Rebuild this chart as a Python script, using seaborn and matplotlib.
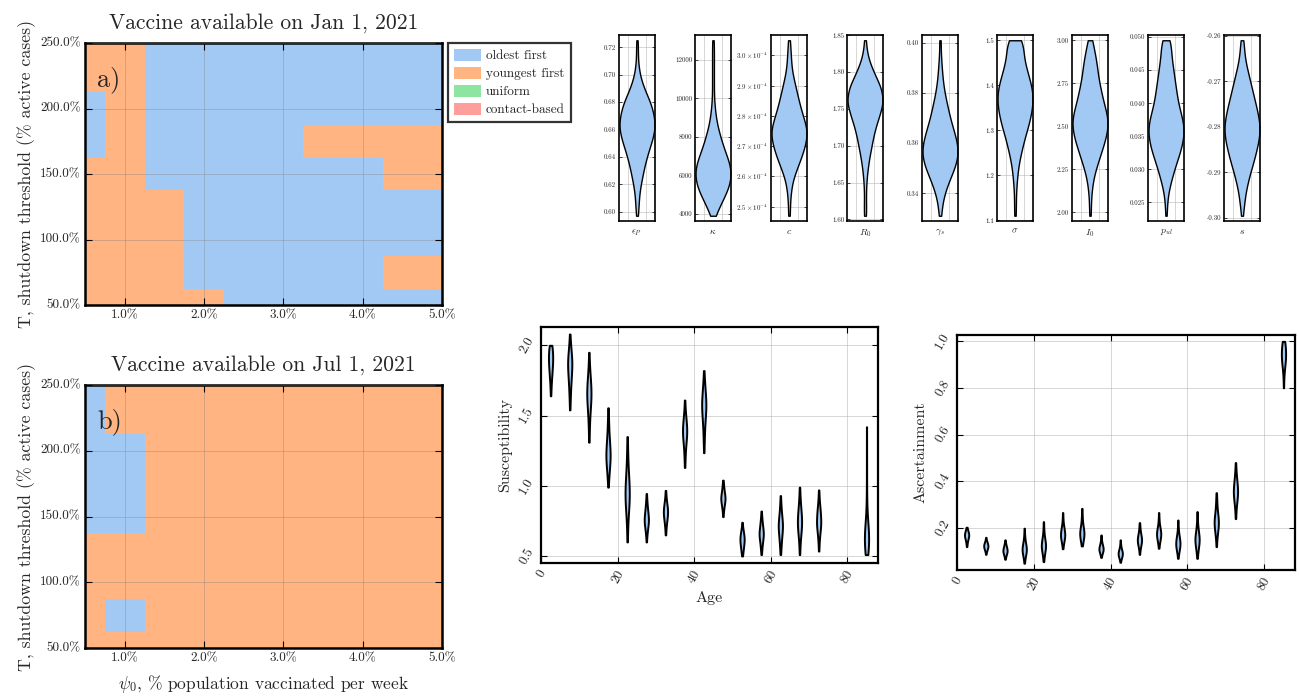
import numpy as np
import pandas as pd
import matplotlib
matplotlib.use("Agg")
import matplotlib.pyplot as plt
from matplotlib.colors import ListedColormap
from matplotlib.patches import Patch
from matplotlib.ticker import FuncFormatter
import seaborn as sns

# ---------------------------------------------------------------------------
# Optimal strategy grids: rows = shutdown threshold T (%), columns = psi0 (%/week)
# ---------------------------------------------------------------------------
psi0_levels = [0.5, 1.0, 1.5, 2.0, 2.5, 3.0, 3.5, 4.0, 4.5, 5.0]
threshold_levels = [50, 75, 100, 125, 150, 175, 200, 225, 250]
psi0_ticks = [1.0, 2.0, 3.0, 4.0, 5.0]
threshold_ticks = [50, 100, 150, 200, 250]
strategies = ["oldest first", "youngest first", "uniform", "contact-based"]
strategy_colors = ["#a1c9f4", "#ffb482", "#8de5a1", "#ff9f9b"]

# 0 = oldest first, 1 = youngest first; first row is T = 50%
best_jan = [
    [1, 1, 1, 1, 0, 0, 0, 0, 0, 0],
    [1, 1, 1, 0, 0, 0, 0, 0, 1, 1],
    [1, 1, 1, 0, 0, 0, 0, 0, 0, 0],
    [1, 1, 1, 0, 0, 0, 0, 0, 0, 0],
    [1, 1, 0, 0, 0, 0, 0, 0, 1, 1],
    [0, 1, 0, 0, 0, 0, 1, 1, 1, 1],
    [0, 1, 0, 0, 0, 0, 0, 0, 0, 0],
    [1, 1, 0, 0, 0, 0, 0, 0, 0, 0],
    [1, 1, 0, 0, 0, 0, 0, 0, 0, 0],
]
best_jul = [
    [1, 1, 1, 1, 1, 1, 1, 1, 1, 1],
    [1, 0, 1, 1, 1, 1, 1, 1, 1, 1],
    [1, 1, 1, 1, 1, 1, 1, 1, 1, 1],
    [1, 1, 1, 1, 1, 1, 1, 1, 1, 1],
    [0, 0, 1, 1, 1, 1, 1, 1, 1, 1],
    [0, 0, 1, 1, 1, 1, 1, 1, 1, 1],
    [0, 0, 1, 1, 1, 1, 1, 1, 1, 1],
    [0, 1, 1, 1, 1, 1, 1, 1, 1, 1],
    [0, 1, 1, 1, 1, 1, 1, 1, 1, 1],
]

# ---------------------------------------------------------------------------
# Posterior draws of the scalar parameters, binned: (values, counts)
# ---------------------------------------------------------------------------
eps_p_values = [0.597, 0.600, 0.605, 0.610, 0.615, 0.620, 0.625, 0.630, 0.635,
                0.640, 0.645, 0.650, 0.655, 0.660, 0.665, 0.670, 0.675, 0.680,
                0.685, 0.690, 0.695, 0.700, 0.705, 0.710, 0.715, 0.720, 0.725]
eps_p_counts = [1, 1, 2, 2, 3, 4, 6, 7, 9, 11, 13, 16, 18, 20, 20, 19, 17, 15,
                11, 8, 5, 3, 2, 1, 1, 1, 1]
kappa_values = [3900, 4200, 4500, 5000, 5500, 6000, 6500, 7000, 7500, 8000, 8500,
                9000, 9500, 10000, 10500, 11000, 11500, 12000, 12500, 13000]
kappa_counts = [1, 3, 7, 14, 18, 20, 19, 15, 11, 8, 5, 3, 2, 1, 1, 1, 1, 1, 1, 1]
c_values = [2.47e-4, 2.51e-4, 2.55e-4, 2.59e-4, 2.63e-4, 2.67e-4, 2.71e-4,
            2.75e-4, 2.79e-4, 2.83e-4, 2.87e-4, 2.91e-4, 2.95e-4, 2.99e-4,
            3.02e-4, 3.05e-4]
c_counts = [1, 1, 2, 4, 9, 14, 18, 20, 16, 12, 9, 6, 3, 2, 1, 1]
r0_values = [1.605, 1.62, 1.64, 1.66, 1.68, 1.70, 1.72, 1.74, 1.76, 1.78, 1.80,
             1.82, 1.843]
r0_counts = [1, 1, 1, 2, 4, 7, 10, 15, 20, 17, 9, 3, 1]
gamma_s_values = [0.331, 0.335, 0.340, 0.345, 0.350, 0.355, 0.360, 0.365, 0.370,
                  0.375, 0.380, 0.385, 0.390, 0.395, 0.401]
gamma_s_counts = [1, 2, 5, 10, 16, 20, 19, 15, 11, 8, 5, 3, 2, 1, 1]
sigma_values = [1.11, 1.135, 1.16, 1.185, 1.21, 1.235, 1.26, 1.285, 1.31, 1.335,
                1.36, 1.385, 1.41, 1.435, 1.46, 1.485, 1.50]
sigma_counts = [1, 1, 1, 2, 3, 5, 8, 11, 15, 18, 20, 20, 17, 13, 10, 8, 6]
i0_values = [1.98, 2.03, 2.08, 2.13, 2.18, 2.23, 2.28, 2.33, 2.38, 2.43, 2.48,
             2.53, 2.58, 2.63, 2.68, 2.73, 2.78, 2.83, 2.88, 2.93, 2.98, 3.00]
i0_counts = [1, 1, 1, 2, 3, 5, 8, 11, 14, 17, 19, 20, 18, 15, 13, 11, 9, 8, 7,
             5, 3, 1]
p_ul_values = [0.023, 0.024, 0.025, 0.026, 0.027, 0.028, 0.029, 0.030, 0.031,
               0.032, 0.033, 0.034, 0.035, 0.036, 0.037, 0.038, 0.039, 0.040,
               0.041, 0.042, 0.043, 0.044, 0.045, 0.046, 0.047, 0.048, 0.049,
               0.0495]
p_ul_counts = [1, 1, 1, 2, 3, 5, 7, 9, 11, 14, 16, 18, 19, 20, 19, 17, 15, 13,
               12, 11, 10, 9, 8, 7, 6, 5, 5, 4]
s_values = [-0.2995, -0.297, -0.295, -0.2925, -0.290, -0.2875, -0.285, -0.2825,
            -0.280, -0.2775, -0.275, -0.2725, -0.270, -0.2675, -0.265, -0.2625,
            -0.261]
s_counts = [1, 2, 3, 6, 9, 13, 16, 19, 20, 18, 15, 12, 9, 6, 3, 2, 1]

param_names = [r"$\epsilon_P$", r"$\kappa$", r"$c$", r"$R_0$", r"$\gamma_s$",
               r"$\sigma$", r"$I_0$", r"$p_{ul}$", r"$s$"]
param_bins = [
    (eps_p_values, eps_p_counts), (kappa_values, kappa_counts),
    (c_values, c_counts), (r0_values, r0_counts),
    (gamma_s_values, gamma_s_counts), (sigma_values, sigma_counts),
    (i0_values, i0_counts), (p_ul_values, p_ul_counts), (s_values, s_counts),
]
param_ticks = [
    [0.60, 0.62, 0.64, 0.66, 0.68, 0.70, 0.72],
    [4000, 6000, 8000, 10000, 12000],
    [2.5e-4, 2.6e-4, 2.7e-4, 2.8e-4, 2.9e-4, 3.0e-4],
    [1.60, 1.65, 1.70, 1.75, 1.80, 1.85],
    [0.34, 0.36, 0.38, 0.40],
    [1.1, 1.2, 1.3, 1.4, 1.5],
    [2.00, 2.25, 2.50, 2.75, 3.00],
    [0.025, 0.030, 0.035, 0.040, 0.045, 0.050],
    [-0.30, -0.29, -0.28, -0.27, -0.26],
]
param_formats = ["%.2f", "%d", "sci", "%.2f", "%.2f", "%.1f", "%.2f", "%.3f", "%.2f"]

# ---------------------------------------------------------------------------
# Age-structured posteriors, binned: one (values, counts) pair per age group
# ---------------------------------------------------------------------------
age_groups = [2.5, 7.5, 12.5, 17.5, 22.5, 27.5, 32.5, 37.5, 42.5, 47.5,
              52.5, 57.5, 62.5, 67.5, 72.5, 85.0]
susceptibility_bins = [
    ([1.64, 1.685, 1.73, 1.775, 1.82, 1.865, 1.91, 1.955, 2.00], [1, 2, 3, 5, 7, 9, 10, 9, 7]),
    ([1.54, 1.61, 1.675, 1.74, 1.81, 1.88, 1.945, 2.01, 2.08], [1, 2, 3, 5, 8, 10, 6, 3, 1]),
    ([1.31, 1.39, 1.47, 1.55, 1.63, 1.71, 1.79, 1.87, 1.95], [1, 2, 3, 6, 10, 9, 5, 2, 1]),
    ([0.99, 1.06, 1.13, 1.20, 1.27, 1.34, 1.415, 1.485, 1.555], [1, 3, 6, 10, 8, 5, 3, 2, 1]),
    ([0.60, 0.69, 0.79, 0.88, 0.975, 1.07, 1.16, 1.255, 1.35], [1, 2, 4, 9, 10, 6, 3, 2, 1]),
    ([0.60, 0.645, 0.685, 0.73, 0.77, 0.815, 0.86, 0.90, 0.945], [1, 2, 5, 9, 10, 7, 4, 2, 1]),
    ([0.65, 0.69, 0.73, 0.77, 0.81, 0.85, 0.89, 0.93, 0.967], [1, 2, 4, 7, 10, 8, 4, 2, 1]),
    ([1.13, 1.19, 1.25, 1.31, 1.37, 1.43, 1.49, 1.55, 1.61], [1, 2, 3, 6, 10, 9, 5, 2, 1]),
    ([1.235, 1.31, 1.38, 1.455, 1.53, 1.60, 1.675, 1.745, 1.82], [1, 2, 3, 5, 9, 10, 6, 3, 1]),
    ([0.78, 0.81, 0.845, 0.88, 0.91, 0.94, 0.975, 1.01, 1.04], [1, 2, 5, 8, 10, 8, 5, 3, 1]),
    ([0.50, 0.53, 0.56, 0.59, 0.62, 0.65, 0.68, 0.71, 0.74], [2, 4, 6, 8, 10, 8, 5, 2, 1]),
    ([0.51, 0.55, 0.59, 0.63, 0.665, 0.705, 0.745, 0.78, 0.82], [1, 3, 5, 8, 10, 7, 4, 2, 1]),
    ([0.51, 0.56, 0.615, 0.67, 0.72, 0.77, 0.825, 0.875, 0.93], [1, 3, 5, 8, 10, 7, 4, 2, 1]),
    ([0.51, 0.57, 0.63, 0.69, 0.75, 0.81, 0.87, 0.93, 0.99], [1, 2, 4, 8, 10, 7, 4, 2, 1]),
    ([0.535, 0.59, 0.645, 0.70, 0.75, 0.81, 0.86, 0.915, 0.97], [1, 2, 4, 8, 10, 8, 4, 2, 1]),
    ([0.51, 0.56, 0.61, 0.66, 0.71, 0.77, 0.84, 0.93, 1.03, 1.14, 1.27, 1.42],
     [5, 8, 10, 9, 6, 3, 2, 1, 1, 1, 1, 1]),
]
ascertainment_bins = [
    ([0.12, 0.13, 0.14, 0.15, 0.16, 0.17, 0.18, 0.19, 0.203], [1, 2, 3, 5, 8, 10, 8, 5, 3]),
    ([0.087, 0.096, 0.105, 0.114, 0.123, 0.132, 0.141, 0.15, 0.16], [1, 2, 5, 8, 10, 8, 5, 2, 1]),
    ([0.066, 0.076, 0.087, 0.097, 0.107, 0.118, 0.128, 0.139, 0.149], [1, 3, 6, 9, 10, 7, 4, 2, 1]),
    ([0.049, 0.068, 0.087, 0.105, 0.124, 0.143, 0.162, 0.18, 0.199], [1, 3, 6, 10, 8, 4, 2, 1, 1]),
    ([0.056, 0.077, 0.099, 0.12, 0.141, 0.163, 0.184, 0.206, 0.227], [1, 3, 6, 10, 8, 4, 2, 1, 1]),
    ([0.111, 0.13, 0.15, 0.169, 0.189, 0.208, 0.227, 0.247, 0.266], [1, 3, 7, 10, 8, 4, 2, 1, 1]),
    ([0.123, 0.143, 0.163, 0.183, 0.203, 0.223, 0.244, 0.264, 0.284], [2, 5, 9, 10, 6, 3, 2, 1, 1]),
    ([0.074, 0.086, 0.098, 0.11, 0.122, 0.134, 0.146, 0.158, 0.17], [1, 3, 7, 10, 7, 4, 2, 1, 1]),
    ([0.053, 0.065, 0.077, 0.089, 0.101, 0.113, 0.125, 0.137, 0.149], [1, 3, 7, 10, 8, 4, 2, 1, 1]),
    ([0.087, 0.104, 0.121, 0.138, 0.155, 0.172, 0.189, 0.206, 0.223], [1, 2, 5, 9, 10, 6, 3, 2, 1]),
    ([0.113, 0.132, 0.151, 0.17, 0.189, 0.208, 0.228, 0.247, 0.266], [1, 3, 6, 10, 8, 4, 2, 1, 1]),
    ([0.07, 0.09, 0.111, 0.131, 0.152, 0.172, 0.193, 0.213, 0.234], [1, 3, 7, 10, 8, 4, 2, 1, 1]),
    ([0.07, 0.095, 0.12, 0.145, 0.17, 0.195, 0.22, 0.245, 0.27], [1, 3, 6, 10, 8, 4, 2, 1, 1]),
    ([0.12, 0.149, 0.178, 0.207, 0.236, 0.265, 0.294, 0.322, 0.351], [1, 2, 5, 9, 10, 5, 3, 2, 1]),
    ([0.24, 0.27, 0.30, 0.33, 0.36, 0.39, 0.42, 0.45, 0.48], [1, 2, 4, 8, 10, 7, 4, 2, 1]),
    ([0.80, 0.825, 0.85, 0.875, 0.90, 0.925, 0.95, 0.975, 0.999], [1, 1, 2, 4, 7, 10, 10, 9, 6]),
]
age_ticks = [0, 20, 40, 60, 80]
susceptibility_ticks = [0.5, 1.0, 1.5, 2.0]
ascertainment_ticks = [0.2, 0.4, 0.6, 0.8, 1.0]

# ---------------------------------------------------------------------------
# Style
# ---------------------------------------------------------------------------
sns.set_theme(style="white", palette="pastel")
plt.rcParams["font.family"] = ["cmr10", "DejaVu Serif"]
plt.rcParams["mathtext.fontset"] = "cm"
plt.rcParams["axes.formatter.use_mathtext"] = True
plt.rcParams["axes.unicode_minus"] = False

violin_color = strategy_colors[0]
grid_kw = dict(color="#b0b0b0", linewidth=0.6, alpha=0.6)

W, H = 1299, 698
fig = plt.figure(figsize=(W / 100, H / 100), dpi=100)


def px_axes(x0, y0, x1, y1):
    return fig.add_axes([x0 / W, 1 - y1 / H, (x1 - x0) / W, (y1 - y0) / H])


def frame(ax, lw=1.6):
    for sp in ax.spines.values():
        sp.set_visible(True)
        sp.set_color("black")
        sp.set_linewidth(lw)
    ax.tick_params(direction="in", top=True, right=True, bottom=True, left=True,
                   color="black", width=0.8)


def expand(values, counts):
    return np.repeat(np.asarray(values, dtype=float), counts)


# ---------------------------------------------------------------------------
# Strategy maps
# ---------------------------------------------------------------------------
def strategy_map(ax, grid, title, tag, xlabel=None):
    cmap = ListedColormap(strategy_colors)
    sns.heatmap(np.array(grid), ax=ax, cmap=cmap, vmin=-0.5, vmax=3.5,
                cbar=False, linewidths=0)
    ax.set_xlim(0.5, len(psi0_levels) - 0.5)
    ax.set_ylim(0.5, len(threshold_levels) - 0.5)
    ax.set_xticks([psi0_levels.index(v) + 0.5 for v in psi0_ticks])
    ax.set_xticklabels(["%.1f%%" % v for v in psi0_ticks], rotation=0, fontsize=9.5)
    ax.set_yticks([threshold_levels.index(v) + 0.5 for v in threshold_ticks])
    ax.set_yticklabels(["%.1f%%" % v for v in threshold_ticks], rotation=0, fontsize=9.5)
    ax.set_axisbelow(False)
    ax.grid(True, color="#7f7f7f", linewidth=0.7, alpha=0.35)
    frame(ax, 1.8)
    ax.tick_params(length=5, pad=3)
    ax.set_title(title, fontsize=15.5, pad=10)
    ax.set_ylabel("T, shutdown threshold (% active cases)", fontsize=12.8, labelpad=3)
    if xlabel:
        ax.set_xlabel(xlabel, fontsize=12.5, labelpad=6)
    else:
        ax.set_xlabel("")
    ax.text(0.035, 0.86, tag, transform=ax.transAxes, fontsize=19, va="center",
            ha="left")


ax_a = px_axes(85, 43, 442, 305)
strategy_map(ax_a, best_jan, "Vaccine available on Jan 1, 2021", "a)")
legend = ax_a.legend(
    handles=[Patch(facecolor=c, edgecolor="none", label=s)
             for s, c in zip(strategies, strategy_colors)],
    loc="upper left", bbox_to_anchor=(1.018, 1.0), borderaxespad=0,
    frameon=True, fancybox=False, edgecolor="black", fontsize=9.5,
    handlelength=2.0, handleheight=1.0, handletextpad=0.4, labelspacing=0.35,
    borderpad=0.45)
legend.get_frame().set_linewidth(1.6)

ax_b = px_axes(85, 385, 442, 648)
strategy_map(ax_b, best_jul, "Vaccine available on Jul 1, 2021", "b)",
             xlabel=r"$\psi_0$, % population vaccinated per week")

# ---------------------------------------------------------------------------
# Scalar parameter posteriors
# ---------------------------------------------------------------------------
panel_lefts = [619, 695, 771, 847, 922, 997, 1072, 1148, 1224]
for left, name, (vals, cnts), ticks, fmt in zip(panel_lefts, param_names, param_bins,
                                                param_ticks, param_formats):
    ax = px_axes(left, 35, left + 36, 221)
    draws = expand(vals, cnts)
    sns.violinplot(y=draws, ax=ax, cut=0, inner=None, color=violin_color,
                   linecolor="black", linewidth=1.0, width=0.97, bw_adjust=0.7,
                   saturation=1.0)
    lo, hi = min(vals), max(vals)
    rng = hi - lo
    ax.set_ylim(lo - 0.03 * rng, hi + 0.03 * rng)
    ax.set_xlim(-0.5, 0.5)
    ax.set_yticks(ticks)
    if fmt == "sci":
        ax.yaxis.set_major_formatter(
            FuncFormatter(lambda v, p: r"$%.1f \times 10^{-4}$" % (v * 1e4)))
    else:
        ax.yaxis.set_major_formatter(FuncFormatter(lambda v, p, f=fmt: f % v))
    ax.set_xticks([-0.25, 0.25])
    ax.set_xticklabels([])
    ax.set_axisbelow(True)
    ax.grid(True, **grid_kw)
    frame(ax, 1.2)
    ax.tick_params(axis="y", labelsize=5, length=2.5, pad=2, width=0.5)
    ax.tick_params(axis="x", length=0)
    ax.set_xlabel(name, fontsize=7, labelpad=1)
    ax.set_ylabel("")

# ---------------------------------------------------------------------------
# Age-structured posteriors
# ---------------------------------------------------------------------------
def age_violins(ax, bins, ylabel, yticks, ylim, xlabel=None):
    ages, draws = [], []
    for age, (vals, cnts) in zip(age_groups, bins):
        d = expand(vals, cnts)
        draws.extend(d)
        ages.extend([age] * len(d))
    df = pd.DataFrame({"age": ages, "value": draws})
    sns.violinplot(data=df, x="age", y="value", native_scale=True, ax=ax, cut=0,
                   inner=None, density_norm="width", width=0.22,
                   color=violin_color, linecolor="black", linewidth=1.4,
                   saturation=1.0)
    ax.set_xlim(0, 88)
    ax.set_ylim(*ylim)
    ax.set_xticks(age_ticks)
    ax.set_xticklabels([str(t) for t in age_ticks], rotation=60, fontsize=9.5)
    ax.set_yticks(yticks)
    ax.set_yticklabels(["%.1f" % t for t in yticks], rotation=60, fontsize=9.5,
                       va="center")
    ax.set_axisbelow(True)
    ax.grid(True, **grid_kw)
    frame(ax, 1.6)
    ax.tick_params(length=4)
    ax.set_ylabel(ylabel, fontsize=11.5)
    ax.set_xlabel(xlabel if xlabel else "", fontsize=11.5)


ax_s = px_axes(541, 327, 878, 563)
age_violins(ax_s, susceptibility_bins, "Susceptibility", susceptibility_ticks,
            (0.45, 2.13), xlabel="Age")

ax_r = px_axes(957, 335, 1295, 570)
age_violins(ax_r, ascertainment_bins, "Ascertainment", ascertainment_ticks,
            (0.02, 1.026))

fig.savefig("out.png", dpi=100)
